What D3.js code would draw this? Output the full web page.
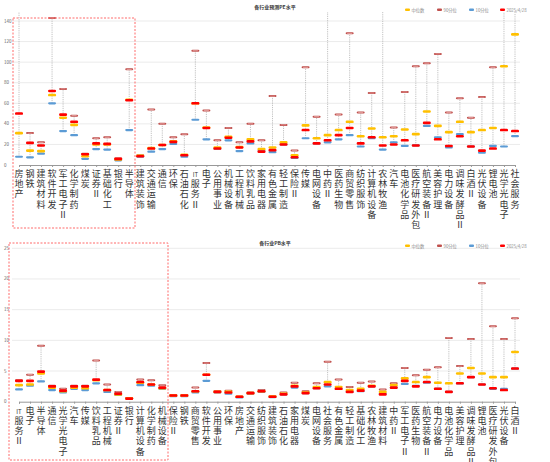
<!DOCTYPE html>
<html><head><meta charset="utf-8">
<script src="https://cdn.jsdelivr.net/npm/d3@7"></script>
<style>body{margin:0;background:#fff}svg{font-family:"Noto Sans CJK SC",sans-serif}</style>
</head><body><svg id="c" width="550" height="462"></svg>
<script>
const peCats=["房地产","钢铁","建筑材料","软件开发","军工电子Ⅱ","化学制药","煤炭","证券Ⅱ","基础化工","银行","半导体","建筑装饰","交通运输","通信","环保","石油石化","IT服务Ⅱ","电子","公用事业","机械设备","工程机械","饮料乳品","家用电器","有色金属","轻工制造","保险Ⅱ","传媒","电网设备","中药Ⅱ","医药生物","商贸零售","纺织服饰","计算机设备","农林牧渔","汽车","电池化学品","医疗研发外包","航空装备Ⅱ","美容护理","电力设备","调味发酵品Ⅱ","白酒Ⅱ","光伏设备","锂电池","光学光电子","社会服务"];
const peP90=[160,31,22,143,74,48,11,26,27,6.3,93,9.5,54,40,27,30,111,53,24,36,22,40,24,67,39,14,95,47,160,49,128,51,70,160,36.5,71,96,99,108,51,65,46,66,95,160,160];
const peMed=[31,14,13.5,68,46,39,8.5,20,20,5.5,63.5,9,16.5,19.5,23,10,60,36.5,17,27.5,17.5,25,15.5,17,22,9.5,38.5,26,29,34,42,28,35.5,27,28,34.5,30,52,38,32,42,32,34,36,96,127];
const peP10=[8,7.5,11,60,33,29,6,15.5,15,4.5,34,8,13,15.5,20.5,8,44,25,16,24,13.5,21,13.5,12.5,20,7,26,21,22,25,29,18,26,15,22,18.5,19,38,27,17,30,18,12,18.5,18,28];
const peCur=[50,21.5,19,72,49,42,10.5,21,20.5,6,63,8.5,16,19.5,22.5,9.5,60,36,16,26.5,17,23,13,14.5,20,7.5,34,21,24,29,36,21,27,19,20,24,19,41,25,18.5,28,18,14,16,34,33];
const peTicks=[0,20,40,60,80,100,120,140];

const pbCats=["IT服务Ⅱ","电子","半导体","通信","光学光电子","汽车","传媒","饮料乳品","工程机械","证券Ⅱ","银行","计算机设备","化学制药","机械设备","保险Ⅱ","钢铁","商贸零售","软件开发","公用事业","环保","房地产","交通运输","纺织服饰","建筑装饰","石油石化","家用电器","煤炭","电网设备","社会服务","有色金属","轻工制造","基础化工","农林牧渔","建筑材料","中药Ⅱ","军工电子Ⅱ","医药生物","航空装备Ⅱ","电力设备","电池化学品","美容护理","调味发酵品Ⅱ","锂电池","医疗研发外包","光伏设备","白酒Ⅱ"];
const pbP90=[3.5,4.4,9.1,2.6,2.1,2.6,2.6,6.7,2.8,1.6,0.6,3.6,3.5,2.7,1.1,1.1,2.3,6.3,1.7,1.8,0.8,1.5,1.9,0.9,1.5,3.1,1.7,3.0,6.5,3.6,2.4,3.1,3.3,2.0,3.0,5.5,4.3,5.2,5.6,10.4,5.8,10.2,19.3,12.3,10.2,13.6];
const pbMed=[2.7,2.8,4.6,2.3,1.7,2.3,2.2,3.5,1.9,1.2,0.55,3.1,2.8,2.2,1.0,1.0,1.7,4.4,1.6,1.6,0.8,1.4,1.7,0.85,1.3,2.6,1.5,2.4,3.2,2.4,1.9,2.1,2.6,1.6,2.7,3.8,3.2,4.0,3.1,3.0,4.6,5.5,4.6,4.0,4.0,8.1];
const pbP10=[2.0,2.6,3.3,1.9,1.5,2.1,1.9,3.0,1.6,1.1,0.5,2.7,2.6,2.1,0.9,0.9,1.5,3.4,1.5,1.3,0.7,1.3,1.6,0.75,1.2,2.3,1.4,2.2,2.5,2.1,1.6,1.7,2.5,1.3,2.3,2.9,2.6,3.1,2.1,1.6,3.0,4.0,2.8,2.1,2.1,5.4];
const pbCur=[3.4,3.4,4.9,2.5,1.8,2.5,2.5,3.6,1.9,1.3,0.5,3.2,2.8,2.3,1.0,1.0,1.7,4.4,1.6,1.5,0.8,1.4,1.7,0.8,1.2,2.5,1.4,2.2,2.8,2.1,1.6,1.8,2.5,1.2,2.3,3.4,2.5,3.2,2.1,1.6,3.0,4.0,2.8,2.2,1.9,5.4];
const pbTicks=[0,5,10,15,20,25];
const legendLabels=["中位数","90分位","10分位","2025/4/28"];
const colors={med:"#FFC000",p90:"#C0504D",p10:"#5B9BD5",cur:"#FF0000"};

const svg=d3.select("#c");
function panel(o){
  const g=svg.append("g");
  const x=d3.scalePoint().domain(o.cats).range([19,515]);
  const y=d3.scaleLinear().domain([0,o.ticks[o.ticks.length-1]]).range([o.y0,o.yTop]);
  const id="clip"+o.key;
  svg.append("clipPath").attr("id",id).append("rect").attr("x",10).attr("y",o.clipTop).attr("width",515).attr("height",o.y0-o.clipTop+4);
  g.selectAll(".gr").data(o.ticks.slice(1)).join("line").attr("x1",12).attr("x2",520).attr("y1",d=>y(d)).attr("y2",d=>y(d)).attr("stroke","#ebebeb").attr("stroke-width",1);
  g.selectAll(".tl").data(o.ticks).join("text").attr("x",4).attr("y",d=>y(d)+1.5).attr("font-size",4.5).attr("fill","#666").text(d=>d);
  const ax=g.append("g").attr("transform",`translate(0,${o.y0})`).call(d3.axisBottom(x).tickSize(2).tickFormat(""));
  ax.select(".domain").attr("stroke","#999");
  ax.selectAll(".tick line").attr("stroke","#999");
  const pg=g.append("g").attr("clip-path",`url(#${id})`);
  o.cats.forEach((c,i)=>{
    const vals=[o.p90[i],o.med[i],o.p10[i],o.cur[i]];
    const lo=d3.min(vals),hi=d3.max(vals);
    pg.append("line").attr("x1",x(c)).attr("x2",x(c)).attr("y1",y(lo)).attr("y2",y(hi)).attr("stroke","#999").attr("stroke-width",0.6).attr("stroke-dasharray","1.2,1");
    const mk=(v,col,h)=>pg.append("rect").attr("x",x(c)-4).attr("y",y(v)-h/2).attr("width",8).attr("height",h).attr("rx",1.2).attr("fill",col);
    mk(o.p90[i],colors.p90,2);
    pg.append("rect").attr("x",x(c)-2.5).attr("y",y(o.p90[i])-0.3).attr("width",5).attr("height",0.6).attr("fill","#f3c0c0");
    mk(o.p10[i],colors.p10,2.2);
    mk(o.med[i],colors.med,2.6);
    mk(o.cur[i],colors.cur,2.6);
    const chars=c.startsWith("IT")?["IT",...c.slice(2)]:[...c];
    chars.forEach((ch,k)=>g.append("text").attr("font-size",ch==="IT"?6:9).attr("fill","#333").attr("text-anchor","middle")
      .attr("x",x(c)).attr("y",o.y0+12+k*10.2).text(ch));
  });
  g.append("text").attr("x",275).attr("y",o.titleY).attr("text-anchor","middle").attr("font-size",5).attr("font-weight","bold").attr("fill","#333").text(o.title);
  const lc=[colors.med,colors.p90,colors.p10,colors.cur], lx=[415,447,479,510];
  legendLabels.forEach((l,k)=>{
    g.append("rect").attr("x",lx[k]-10).attr("y",o.legY-1.5).attr("width",5).attr("height",2.4).attr("rx",1).attr("fill",lc[k]);
    g.append("text").attr("x",lx[k]-3.5).attr("y",o.legY+1.6).attr("font-size",4.3).attr("fill","#888").text(l);
  });
  svg.append("rect").attr("x",o.box[0]).attr("y",o.box[1]).attr("width",o.box[2]).attr("height",o.box[3]).attr("fill","none").attr("stroke","#ff6b6b").attr("stroke-width",1).attr("stroke-dasharray","2,1.5");
}
panel({key:"pe",cats:peCats,p90:peP90,med:peMed,p10:peP10,cur:peCur,ticks:peTicks,y0:165,yTop:21,clipTop:12,title:"各行业预测PE水平",titleY:9,legY:10,box:[13,18,122,210]});
panel({key:"pb",cats:pbCats,p90:pbP90,med:pbMed,p10:pbP10,cur:pbCur,ticks:pbTicks,y0:401.7,yTop:248.3,clipTop:246,title:"各行业PB水平",titleY:245,legY:246,box:[9,243,159,217]});
</script></body></html>
